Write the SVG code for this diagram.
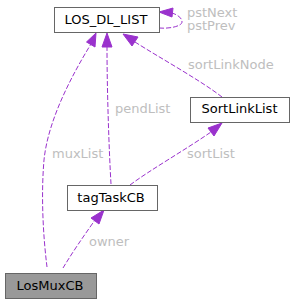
<svg xmlns="http://www.w3.org/2000/svg" width="295" height="304" viewBox="0 0 295 304">
<defs>
<style>
.box{fill:#ffffff;stroke:#666666;stroke-width:1}
.hl{fill:#999999;stroke:#666666;stroke-width:1}
.t{font-family:"DejaVu Sans",sans-serif;font-size:13px;fill:#000000;text-anchor:middle}
.lbl{font-family:"DejaVu Sans",sans-serif;font-size:13px;fill:#bebebe}
.e{fill:none;stroke:#9a32cd;stroke-width:1;stroke-dasharray:5,2}
.ah{fill:#9a32cd;stroke:#9a32cd;stroke-width:1}
</style>
</defs>
<rect width="295" height="304" fill="#ffffff"/>
<g id="edges">
<!-- muxList -->
<path class="e" d="M47,267 C43,235 41,195 44,160 C48,120 72,75 91,44"/>
<polygon class="ah" points="86.5,42 96,33 95,47"/>
<!-- pendList -->
<path class="e" d="M111,184 C109,150 107,90 107,47"/>
<polygon class="ah" points="102,47 107,33 112,47"/>
<!-- sortLinkNode -->
<path class="e" d="M222,97 C200,80 160,58 135,42"/>
<polygon class="ah" points="132,46 123,34 138,37"/>
<!-- sortList -->
<path class="e" d="M130,185 C150,170 185,150 211,132"/>
<polygon class="ah" points="208,128 222,123 214,136"/>
<!-- owner -->
<path class="e" d="M63,268 C72,253 83,237 95,220"/>
<polygon class="ah" points="91,218 104,210 99,224"/>
<!-- self loop -->
<path class="e" d="M159,28 C170,29 182,26 182,22 C182,18 178,15 172,13"/>
<polygon class="ah" points="173,8 159,12 172,17"/>
</g>
<g id="LOS_DL_LIST">
<rect class="box" x="54.5" y="7.5" width="105" height="25"/>
<text class="t" x="106" y="24">LOS_DL_LIST</text>
</g>
<g id="SortLinkList">
<rect class="box" x="190.5" y="97.5" width="99" height="25"/>
<text class="t" x="239.5" y="113">SortLinkList</text>
</g>
<g id="tagTaskCB">
<rect class="box" x="67.5" y="185.5" width="90" height="25"/>
<text class="t" x="111" y="202">tagTaskCB</text>
</g>
<g id="LosMuxCB">
<rect class="hl" x="5.5" y="273.5" width="91" height="25"/>
<text class="t" x="50" y="290">LosMuxCB</text>
</g>
<g id="labels">
<text class="lbl" x="187" y="17">pstNext</text>
<text class="lbl" x="187" y="30">pstPrev</text>
<text class="lbl" x="188" y="69">sortLinkNode</text>
<text class="lbl" x="115" y="113">pendList</text>
<text class="lbl" x="52" y="158">muxList</text>
<text class="lbl" x="187" y="158">sortList</text>
<text class="lbl" x="89" y="246">owner</text>
</g>
</svg>
